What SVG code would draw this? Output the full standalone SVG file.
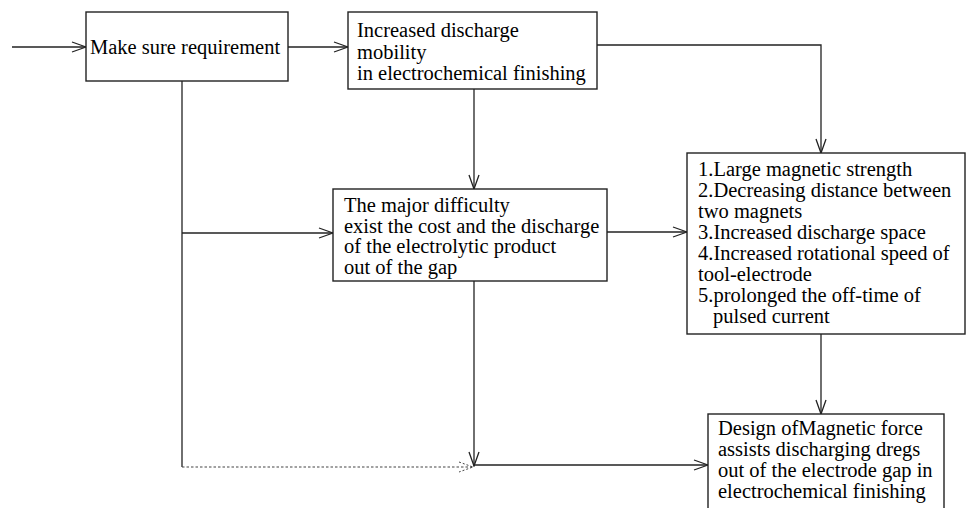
<svg xmlns="http://www.w3.org/2000/svg" width="966" height="508" viewBox="0 0 966 508">
<defs>
<marker id="arr" viewBox="0 0 16 12" refX="15" refY="6" markerWidth="16" markerHeight="12" markerUnits="userSpaceOnUse" orient="auto">
<path d="M1,1 L15,6 L1,11" fill="none" stroke="#222" stroke-width="1.3"/>
</marker>
<marker id="arrd" viewBox="0 0 16 12" refX="15" refY="6" markerWidth="16" markerHeight="12" markerUnits="userSpaceOnUse" orient="auto">
<path d="M1,1 L15,6 L1,11" fill="none" stroke="#444" stroke-width="1" stroke-dasharray="2,2"/>
</marker>
</defs>
<style>
.box{fill:#fff;stroke:#222;stroke-width:1.4}
.t{font-family:'Liberation Serif','Times New Roman',serif;font-size:20.5px;fill:#000}
.c{fill:none;stroke:#222;stroke-width:1.3}
.d{fill:none;stroke:#444;stroke-width:1.2;stroke-dasharray:2.5,2}
</style>
<rect width="966" height="508" fill="#fff"/>
<g id="connectors">
<line class="c" x1="12" y1="47" x2="86" y2="47" marker-end="url(#arr)"/>
<line class="c" x1="288" y1="47" x2="348" y2="47" marker-end="url(#arr)"/>
<polyline class="c" points="597,45 821,45 821,153" marker-end="url(#arr)"/>
<line class="c" x1="474" y1="89" x2="474" y2="189" marker-end="url(#arr)"/>
<line class="c" x1="182" y1="81" x2="182" y2="467"/>
<line class="c" x1="182" y1="233" x2="333" y2="233" marker-end="url(#arr)"/>
<line class="c" x1="607" y1="232" x2="687" y2="232" marker-end="url(#arr)"/>
<line class="c" x1="821" y1="334" x2="821" y2="414" marker-end="url(#arr)"/>
<line class="c" x1="474" y1="281" x2="474" y2="466" marker-end="url(#arr)"/>
<line class="d" x1="182" y1="467" x2="473" y2="467" marker-end="url(#arrd)"/>
<line class="c" x1="474" y1="465" x2="708" y2="465" marker-end="url(#arr)"/>
</g>
<g id="n1">
<rect class="box" x="86" y="12" width="202" height="69"/>
<text class="t" x="90" y="54">Make sure requirement</text>
</g>
<g id="n2">
<rect class="box" x="348" y="12" width="249" height="77"/>
<text class="t" x="357" y="37">Increased discharge</text>
<text class="t" x="357" y="58.5">mobility</text>
<text class="t" x="357" y="80">in electrochemical finishing</text>
</g>
<g id="n3">
<rect class="box" x="333" y="189" width="274" height="92"/>
<text class="t" x="344" y="212">The major difficulty</text>
<text class="t" x="344" y="232.5">exist the cost and the discharge</text>
<text class="t" x="344" y="253">of the electrolytic product</text>
<text class="t" x="344" y="273.5">out of the gap</text>
</g>
<g id="n4">
<rect class="box" x="687" y="153" width="278" height="181"/>
<text class="t" x="698" y="176">1.Large magnetic strength</text>
<text class="t" x="698" y="197">2.Decreasing distance between</text>
<text class="t" x="698" y="218">two magnets</text>
<text class="t" x="698" y="239">3.Increased discharge space</text>
<text class="t" x="698" y="259.5">4.Increased rotational speed of</text>
<text class="t" x="698" y="280.5">tool-electrode</text>
<text class="t" x="698" y="301.5">5.prolonged the off-time of</text>
<text class="t" x="713" y="322.5">pulsed current</text>
</g>
<g id="n5">
<rect class="box" x="708" y="414" width="236" height="100"/>
<text class="t" x="718" y="435">Design ofMagnetic force</text>
<text class="t" x="718" y="456">assists discharging dregs</text>
<text class="t" x="718" y="477">out of the electrode gap in</text>
<text class="t" x="718" y="498">electrochemical finishing</text>
</g>
</svg>
